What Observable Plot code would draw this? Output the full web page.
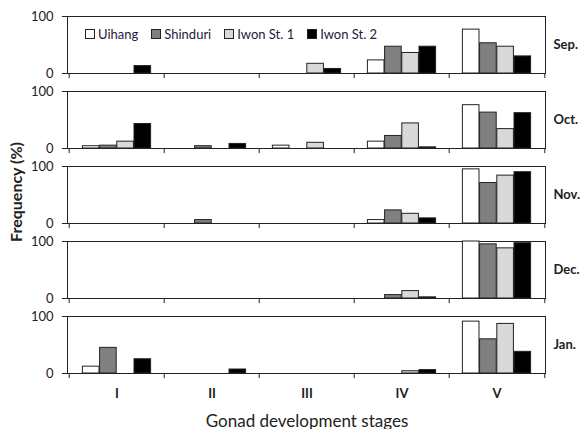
<!DOCTYPE html>
<html>
<head>
<meta charset="utf-8">
<script src="https://cdn.jsdelivr.net/npm/d3@7"></script>
<script src="https://cdn.jsdelivr.net/npm/@observablehq/plot@0.6"></script>
<style>
  body { margin: 0; background: white; }
  #wrap { position: relative; width: 581px; height: 429px; font-family: Lato, "DejaVu Sans", sans-serif; color: #222; }
  #wrap svg [aria-label^="fy-axis"] text { font-weight: bold; }
  #wrap svg [aria-label^="x-axis"] text { font-weight: bold; }
  #legend { position: absolute; left: 85px; top: 26px; display: flex; align-items: center; font-size: 13px; color: #1f2040; }
  #legend .item { display: flex; align-items: center; margin-right: 13px; }
  #legend .sw { width: 8px; height: 8px; border: 1px solid #222; margin-right: 3px; }
  #ytitle { position: absolute; left: 15px; top: 192px; transform: translate(-50%, -50%) rotate(-90deg); font-weight: bold; font-size: 16px; white-space: nowrap; }
  #xtitle { position: absolute; left: 307px; top: 420px; transform: translate(-50%, -50%); font-size: 17px; white-space: nowrap; }
</style>
</head>
<body>
<div id="wrap"></div>
<script>
const months = ["Sep.", "Oct.", "Nov.", "Dec.", "Jan."];
const stages = ["I", "II", "III", "IV", "V"];
const series = ["Uihang", "Shinduri", "Iwon St. 1", "Iwon St. 2"];
const colors = ["#ffffff", "#808080", "#d9d9d9", "#000000"];

// values per series, per stage (I..V)
const sep = {
  "Uihang":     [0, 0, 0, 23, 77],
  "Shinduri":   [0, 0, 0, 47, 53],
  "Iwon St. 1": [0, 0, 17, 36, 47],
  "Iwon St. 2": [13, 0, 8, 47, 30]
};
const oct = {
  "Uihang":     [4, 0, 5, 12, 76],
  "Shinduri":   [5, 4, 0, 22, 63],
  "Iwon St. 1": [12, 0, 10, 44, 34],
  "Iwon St. 2": [43, 8, 0, 2, 62]
};
const nov = {
  "Uihang":     [0, 0, 0, 6, 95],
  "Shinduri":   [0, 6, 0, 23, 71],
  "Iwon St. 1": [0, 0, 0, 17, 84],
  "Iwon St. 2": [0, 0, 0, 9, 90]
};
const dec = {
  "Uihang":     [0, 0, 0, 0, 100],
  "Shinduri":   [0, 0, 0, 6, 95],
  "Iwon St. 1": [0, 0, 0, 13, 88],
  "Iwon St. 2": [0, 0, 0, 2, 97]
};
const jan = {
  "Uihang":     [12, 0, 0, 0, 91],
  "Shinduri":   [45, 0, 0, 0, 60],
  "Iwon St. 1": [0, 0, 0, 4, 87],
  "Iwon St. 2": [25, 7, 0, 6, 38]
};
const yTicks = [0, 100];

const byMonth = [sep, oct, nov, dec, jan];
const rows = [];
byMonth.forEach((m, mi) => {
  series.forEach(s => {
    m[s].forEach((v, si) => {
      if (v > 0) rows.push({month: months[mi], series: s, stage: stages[si], value: v});
    });
  });
});

const W = 581, H = 429;
const mL = 67, mR = 36, mT = 15, mB = 55;
const bw = (W - mL - mR) / stages.length;   // band width
const barW = bw * 0.18;
const pad = (bw - 4 * barW) / 2;

const barMarks = series.map((s, i) =>
  Plot.barY(rows.filter(d => d.series === s), {
    x: "stage", y1: 0, y2: "value", fy: "month",
    fill: colors[i], stroke: "#222", strokeWidth: 1,
    insetLeft: pad + i * barW, insetRight: bw - pad - (i + 1) * barW
  })
);

const chart = Plot.plot({
  width: W, height: H,
  marginTop: mT, marginBottom: mB, marginLeft: mL, marginRight: mR,
  style: { fontFamily: "Lato, 'DejaVu Sans', sans-serif", fontSize: "13px", color: "#222", background: "white" },
  x: { domain: stages, padding: 0, tickSize: 0, tickPadding: 15, label: null },
  y: { domain: [0, 100], ticks: yTicks, tickSize: 5, tickPadding: 9, label: null },
  fy: { domain: months, paddingInner: 0.245, paddingOuter: 0, axis: "right", tickSize: 0, tickPadding: 8, label: null },
  marks: [
    Plot.frame({ stroke: "#222" }),
    ...barMarks,
    Plot.ruleX(stages, { x: d => d, dx: -bw / 2, y1: 0, y2: -9, stroke: "#222" }),
    Plot.ruleX(stages.slice(-1), { x: d => d, dx: bw / 2, y1: 0, y2: -9, stroke: "#222" })
  ]
});

const wrap = document.getElementById("wrap");
wrap.appendChild(chart);

const legend = document.createElement("div");
legend.id = "legend";
series.forEach((s, i) => {
  const it = document.createElement("div");
  it.className = "item";
  const sw = document.createElement("div");
  sw.className = "sw";
  sw.style.background = colors[i];
  const t = document.createElement("span");
  t.textContent = s;
  it.appendChild(sw); it.appendChild(t);
  legend.appendChild(it);
});
wrap.appendChild(legend);

const yt = document.createElement("div");
yt.id = "ytitle"; yt.textContent = "Frequency (%)";
wrap.appendChild(yt);
const xt = document.createElement("div");
xt.id = "xtitle"; xt.textContent = "Gonad development stages";
wrap.appendChild(xt);
</script>
</body>
</html>
